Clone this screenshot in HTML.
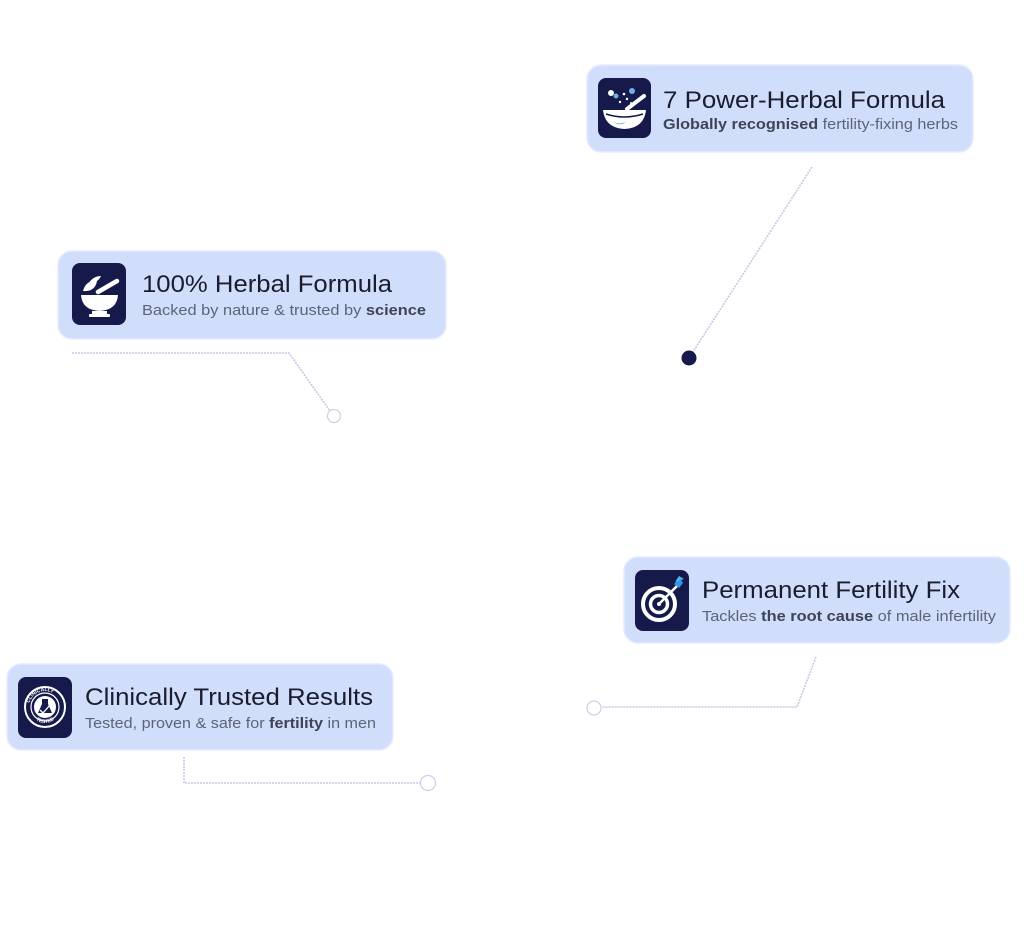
<!DOCTYPE html>
<html>
<head>
<meta charset="utf-8">
<style>
  html,body{margin:0;padding:0;background:#ffffff;}
  body{width:1024px;height:926px;overflow:hidden;}
  svg{display:block;}
  .t{font-family:"Liberation Sans",sans-serif;font-size:24px;fill:#1b1d2e;}
  .s{font-family:"Liberation Sans",sans-serif;font-size:15px;fill:#5d6476;}
  .b{font-weight:bold;fill:#3f4454;}
</style>
</head>
<body>
<svg width="1024" height="926" viewBox="0 0 1024 926" xmlns="http://www.w3.org/2000/svg">
  <!-- connectors -->
  <g fill="none" stroke="#c4c9e8" stroke-width="1.6" stroke-dasharray="2 1">
    <line x1="812" y1="167" x2="689" y2="358"/>
    <polyline points="72,353 289,353 330,411"/>
    <polyline points="816,657 797,707 601,707"/>
    <polyline points="184,757 184,783 420,783"/>
  </g>
  <circle cx="689" cy="358" r="7.5" fill="#161a4a"/>
  <g fill="#ffffff" stroke="#cdd1ea" stroke-width="1.3">
    <circle cx="334" cy="416" r="6.5"/>
    <circle cx="594" cy="708" r="7"/>
    <circle cx="428" cy="783" r="7.5"/>
  </g>

  <!-- cards -->
  <g fill="#d0ddfb" stroke="#e6ecfd" stroke-width="1.5">
    <rect x="587" y="65" width="386" height="87" rx="14"/>
    <rect x="58" y="251" width="388" height="88" rx="14"/>
    <rect x="624" y="557" width="386" height="86" rx="14"/>
    <rect x="7" y="664" width="386" height="86" rx="14"/>
  </g>

  <!-- icon backgrounds -->
  <g fill="#161a4a">
    <rect x="598" y="78" width="53" height="60" rx="8"/>
    <rect x="72" y="263" width="54" height="62" rx="8"/>
    <rect x="635" y="570" width="54" height="61" rx="8"/>
    <rect x="18" y="677" width="54" height="61" rx="8"/>
  </g>

  <!-- icon 1: bowl with pestle and particles -->
  <g>
    <path d="M603 110 L646 110 Q644 128 624.5 129 Q605 128 603 110 Z" fill="#ffffff"/>
    <path d="M606 114 Q624 120 643 114" stroke="#161a4a" stroke-width="1.5" fill="none"/>
    <line x1="627" y1="109" x2="644" y2="96" stroke="#ffffff" stroke-width="4" stroke-linecap="round"/>
    <path d="M608 118 Q615 126 626 122 Q618 128 608 118 Z" fill="#6fb0e6"/>
    <circle cx="611" cy="93" r="3" fill="#ffffff"/>
    <circle cx="616" cy="96" r="2.5" fill="#6fb0e6"/>
    <circle cx="632" cy="91" r="3" fill="#6fb0e6"/>
    <circle cx="624" cy="94" r="1.3" fill="#ffffff"/>
    <circle cx="627" cy="99" r="1.2" fill="#ffffff"/>
    <circle cx="620" cy="102" r="1.2" fill="#ffffff"/>
    <circle cx="631" cy="103" r="1" fill="#ffffff"/>
  </g>

  <!-- icon 2: mortar & pestle with leaves -->
  <g fill="#ffffff">
    <path d="M81 295 L118 295 Q117 310 99.5 311 Q82 310 81 295 Z"/>
    <rect x="92" y="311" width="15" height="3"/>
    <rect x="89" y="314" width="21" height="3" rx="1"/>
    <line x1="98" y1="292" x2="117" y2="281" stroke="#ffffff" stroke-width="4.5" stroke-linecap="round"/>
    <path d="M83 291 Q86 280 97 281 Q95 292 83 291 Z"/>
    <path d="M88 284 Q93 276 101 276 Q98 283 88 284 Z"/>
  </g>

  <!-- icon 3: target -->
  <g fill="none" stroke="#ffffff">
    <circle cx="659" cy="604" r="16" stroke-width="4"/>
    <circle cx="659" cy="604" r="8.5" stroke-width="3.5"/>
    <circle cx="659" cy="604" r="2" fill="#ffffff" stroke="none"/>
    <line x1="659" y1="604" x2="677" y2="586" stroke-width="2.5"/>
  </g>
  <path d="M674 584 L680 578 L683 583 L679 588 Z" fill="#2f9be2"/>
  <path d="M675 582 L679 576 L684 579 Z" fill="#4fb4f0"/>

  <!-- icon 4: clinically tested badge -->
  <g>
    <circle cx="45" cy="707" r="20" fill="none" stroke="#ffffff" stroke-width="2"/>
    <circle cx="45" cy="707" r="14" fill="none" stroke="#ffffff" stroke-width="1.2"/>
    <circle cx="45" cy="707" r="11" fill="#ffffff"/>
    <path d="M42 699 L48 699 L48 704 L52 713 L38 713 L42 704 Z" fill="#161a4a"/>
    <path d="M40 710 L43 713 L50 705" stroke="#ffffff" stroke-width="1.3" fill="none"/>
    <defs>
      <path id="arcTop" d="M29 707 A16 16 0 0 1 61 707"/>
      <path id="arcBot" d="M31 709 A14 14 0 0 0 59 709"/>
    </defs>
    <text font-family="Liberation Sans,sans-serif" font-size="5" font-weight="bold" fill="#ffffff"><textPath href="#arcTop" startOffset="8%">CLINICALLY</textPath></text>
    <text font-family="Liberation Sans,sans-serif" font-size="5" font-weight="bold" fill="#ffffff"><textPath href="#arcBot" startOffset="28%">TESTED</textPath></text>
  </g>

  <!-- texts -->
  <text class="t" x="663" y="108" textLength="282" lengthAdjust="spacingAndGlyphs">7 Power-Herbal Formula</text>
  <text class="s" x="663" y="129" textLength="295" lengthAdjust="spacingAndGlyphs"><tspan class="b">Globally recognised</tspan> fertility-fixing herbs</text>

  <text class="t" x="142" y="292" textLength="250" lengthAdjust="spacingAndGlyphs">100% Herbal Formula</text>
  <text class="s" x="142" y="315" textLength="284" lengthAdjust="spacingAndGlyphs">Backed by nature &amp; trusted by <tspan class="b">science</tspan></text>

  <text class="t" x="702" y="598" textLength="258" lengthAdjust="spacingAndGlyphs">Permanent Fertility Fix</text>
  <text class="s" x="702" y="621" textLength="294" lengthAdjust="spacingAndGlyphs">Tackles <tspan class="b">the root cause</tspan> of male infertility</text>

  <text class="t" x="85" y="705" textLength="288" lengthAdjust="spacingAndGlyphs">Clinically Trusted Results</text>
  <text class="s" x="85" y="728" textLength="291" lengthAdjust="spacingAndGlyphs">Tested, proven &amp; safe for <tspan class="b">fertility</tspan> in men</text>
</svg>
</body>
</html>
